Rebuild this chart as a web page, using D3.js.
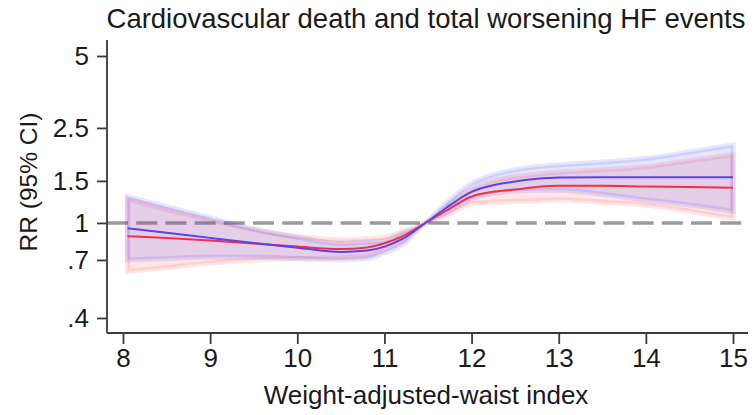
<!DOCTYPE html>
<html>
<head>
<meta charset="utf-8">
<script src="https://cdn.jsdelivr.net/npm/d3@7"></script>
<style>
  body { margin: 0; background: #fff; }
  svg text { font-family: "Liberation Sans", Arial, sans-serif; fill: #1a1a1a; }
</style>
</head>
<body>
<svg id="chart" width="755" height="415"></svg>
<script>
// values
var wwi = [8.05, 8.5, 9, 9.5, 10, 10.5, 10.8, 11, 11.2, 11.47, 11.7, 12, 12.25, 12.5, 12.75, 13, 13.5, 14, 14.5, 15]

var blueRR = [0.95, 0.91, 0.866, 0.825, 0.788, 0.756, 0.766, 0.796, 0.855, 1.0, 1.15, 1.35, 1.44, 1.49, 1.53, 1.55, 1.555, 1.555, 1.555, 1.555]
var blueHi = [1.29, 1.17, 1.05, 0.94, 0.87, 0.82, 0.83, 0.84, 0.9, 1.0, 1.2, 1.46, 1.59, 1.67, 1.72, 1.75, 1.8, 1.86, 1.98, 2.12]
var blueLo = [0.7, 0.71, 0.72, 0.72, 0.71, 0.7, 0.71, 0.75, 0.81, 1.0, 1.1, 1.26, 1.33, 1.36, 1.37, 1.37, 1.32, 1.25, 1.19, 1.12]

var redRR = [0.88, 0.865, 0.845, 0.82, 0.796, 0.778, 0.79, 0.822, 0.876, 1.0, 1.12, 1.29, 1.35, 1.38, 1.415, 1.43, 1.43, 1.42, 1.415, 1.405]
var redHi = [1.26, 1.14, 1.03, 0.94, 0.88, 0.85, 0.86, 0.87, 0.92, 1.0, 1.17, 1.38, 1.5, 1.56, 1.6, 1.63, 1.67, 1.72, 1.82, 1.93]
var redLo = [0.626, 0.65, 0.68, 0.7, 0.71, 0.715, 0.725, 0.775, 0.835, 1.0, 1.07, 1.2, 1.22, 1.23, 1.24, 1.25, 1.22, 1.19, 1.12, 1.046]

var xTicks = [8, 9, 10, 11, 12, 13, 14, 15]
var yTicks = [0.4, 0.7, 1, 1.5, 2.5, 5]
var yTickLabels = ['.4', '.7', '1', '1.5', '2.5', '5']

var titleText = 'Cardiovascular death and total worsening HF events'
var xTitle = 'Weight-adjusted-waist index'
var yTitle = 'RR (95% CI)'

var svg = d3.select('#chart')

// scales
var xPositionScale = d3.scaleLinear().domain([8, 15]).range([123, 733])
var yPositionScale = d3.scaleLog().domain([0.4, 5]).range([318, 56])

// the axis lines run a bit past the outer ticks
var xLeft = 107, xRight = 748, yTop = 40, yBottom = 333

function rows(rr, hi, lo) {
  return wwi.map(function(x, i) {
    return { x: x, rr: rr[i], hi: hi[i], lo: lo[i] }
  })
}
var blue = rows(blueRR, blueHi, blueLo)
var red = rows(redRR, redHi, redLo)

var area = d3.area()
  .x(function(d) { return xPositionScale(d.x) })
  .y0(function(d) { return yPositionScale(d.lo) })
  .y1(function(d) { return yPositionScale(d.hi) })
  .curve(d3.curveMonotoneX)

var line = d3.line()
  .x(function(d) { return xPositionScale(d.x) })
  .y(function(d) { return yPositionScale(d.rr) })
  .curve(d3.curveMonotoneX)

// reference line at RR = 1
svg.append('line')
  .attr('x1', xLeft).attr('x2', xRight)
  .attr('y1', yPositionScale(1)).attr('y2', yPositionScale(1))
  .attr('stroke', '#9a9a9a')
  .attr('stroke-width', 3.5)
  .attr('stroke-dasharray', '21,8.2')

// confidence bands
svg.append('path').datum(red)
  .attr('d', area)
  .attr('fill', 'rgb(255,40,40)').attr('fill-opacity', 0.12)
  .attr('stroke', 'rgb(255,40,40)').attr('stroke-opacity', 0.12)
  .attr('stroke-width', 5)

svg.append('path').datum(blue)
  .attr('d', area)
  .attr('fill', 'rgb(40,40,255)').attr('fill-opacity', 0.12)
  .attr('stroke', 'rgb(40,40,255)').attr('stroke-opacity', 0.12)
  .attr('stroke-width', 5)

// estimates
svg.append('path').datum(red)
  .attr('d', line)
  .attr('fill', 'none')
  .attr('stroke', '#f0304a')
  .attr('stroke-width', 2)

svg.append('path').datum(blue)
  .attr('d', line)
  .attr('fill', 'none')
  .attr('stroke', '#5a44e6')
  .attr('stroke-width', 2)

// axes
var xAxis = d3.axisBottom(xPositionScale)
  .tickValues(xTicks)
  .tickSize(11)
  .tickPadding(5)
  .tickFormat(d3.format('d'))
var xg = svg.append('g')
  .attr('class', 'axis x-axis')
  .attr('transform', 'translate(0,' + yBottom + ')')
  .call(xAxis)
xg.select('.domain').remove()
xg.append('line').attr('x1', xLeft).attr('x2', xRight)
  .attr('stroke', '#3a3a3a').attr('stroke-width', 1.8)

var yAxis = d3.axisLeft(yPositionScale)
  .tickValues(yTicks)
  .tickSize(10)
  .tickPadding(8)
  .tickFormat(function(d, i) { return yTickLabels[i] })
var yg = svg.append('g')
  .attr('class', 'axis y-axis')
  .attr('transform', 'translate(' + xLeft + ',0)')
  .call(yAxis)
yg.select('.domain').remove()
yg.append('line').attr('y1', yTop).attr('y2', yBottom)
  .attr('stroke', '#3a3a3a').attr('stroke-width', 1.8)

svg.selectAll('.axis .tick line').attr('stroke', '#3a3a3a').attr('stroke-width', 1.8)
svg.selectAll('.axis text')
  .style('font-size', '26px')
  .attr('fill', '#1a1a1a')
  .style('font-family', '"Liberation Sans", Arial, sans-serif')

// titles
svg.append('text')
  .attr('x', 426).attr('y', 28)
  .attr('text-anchor', 'middle')
  .style('font-size', '27.5px')
  .text(titleText)

svg.append('text')
  .attr('x', 426).attr('y', 404)
  .attr('text-anchor', 'middle')
  .style('font-size', '26px')
  .text(xTitle)

svg.append('text')
  .attr('transform', 'translate(37,182) rotate(-90)')
  .attr('text-anchor', 'middle')
  .style('font-size', '24.5px')
  .text(yTitle)
</script>
</body>
</html>
